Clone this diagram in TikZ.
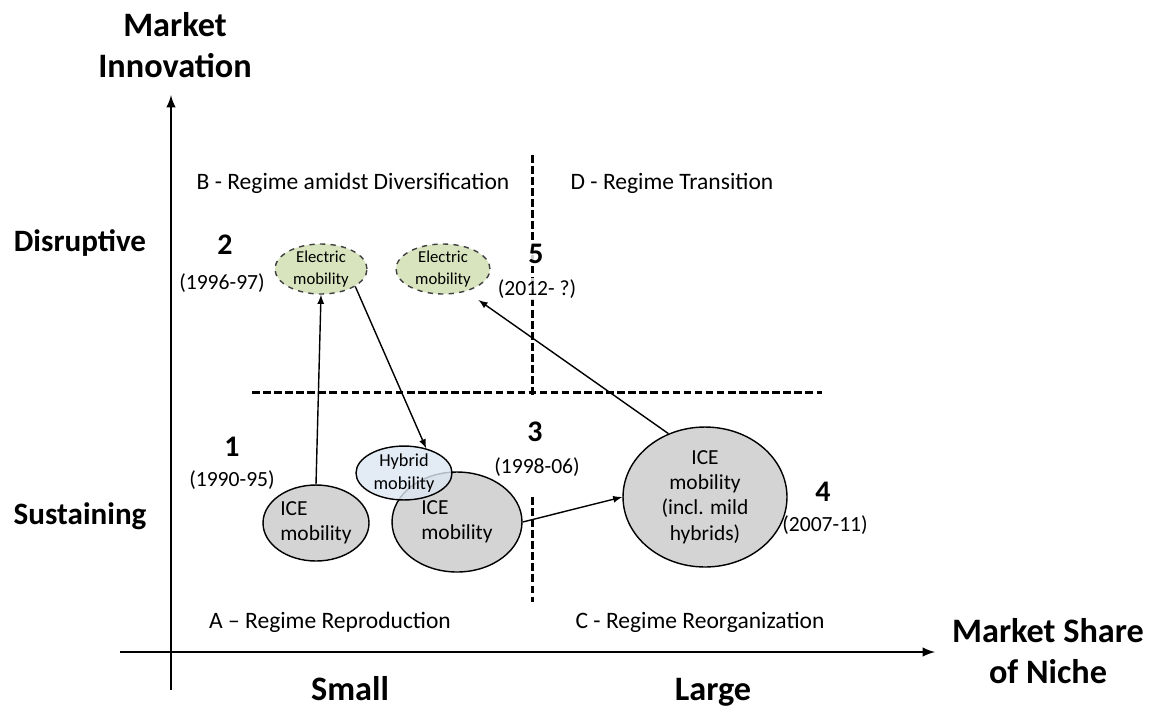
\documentclass[tikz,border=0pt]{standalone}
\usepackage{fontspec}
\setmainfont{Carlito}
\usetikzlibrary{shapes.geometric}
\definecolor{icegray}{RGB}{212,212,212}
\definecolor{elgreen}{RGB}{215,228,189}
\definecolor{hybblue}{RGB}{220,230,242}

\begin{document}
\begin{tikzpicture}
[x=0.02cm,y=-0.02cm,%
  axisdecorate/.style={-latex,line width=1.4pt},%
  dashdecorate/.style={line width=1.7pt,dash pattern=on 4.3pt off 2pt},%
  arrowdecorate/.style={-latex,line width=0.8pt},%
  titledecorate/.style={font=\fontsize{19.5}{23}\selectfont\bfseries,align=center},%
  leveldecorate/.style={font=\fontsize{17.7}{20}\selectfont\bfseries},%
  quaddecorate/.style={font=\fontsize{13.4}{16}\selectfont},%
  numdecorate/.style={font=\fontsize{17}{19}\selectfont\bfseries},%
  yeardecorate/.style={font=\fontsize{12.3}{14}\selectfont,inner sep=1pt},%
  icedecorate/.style={shape=ellipse,draw,thick,fill=icegray,inner sep=0pt,font=\fontsize{12.2}{14.5}\selectfont},%
  electricdecorate/.style={shape=ellipse,draw=black!75,thick,dashed,fill=elgreen,inner sep=0pt,font=\fontsize{9.5}{12}\selectfont,align=center},%
  hybriddecorate/.style={shape=ellipse,draw,thick,fill=hybblue,fill opacity=0.8,text opacity=1,inner sep=0pt,font=\fontsize{10.4}{12.8}\selectfont,align=center}]
\useasboundingbox (0,0) rectangle (1151,707);
%% axes
\coordinate (xstart) at (120,652);
\coordinate (xend) at (935,652);
\coordinate (ystart) at (171,690);
\coordinate (yend) at (171,95);
\draw[axisdecorate] (xstart) -- (xend);
\draw[axisdecorate] (ystart) -- (yend);
%% quadrant borders
\coordinate (hleft) at (252,392);
\coordinate (hright) at (822,392);
\coordinate (vtop) at (532,155);
\coordinate (vmid) at (532,398);
\coordinate (vlow) at (532,497);
\coordinate (vbot) at (532,602);
\draw[dashdecorate] (hleft) -- (hright);
\draw[dashdecorate] (vtop) -- (vmid);
\draw[dashdecorate] (vlow) -- (vbot);
%% axis texts
\node (mi) at (175,45) [titledecorate] {Market\\Innovation};
\node (ms) at (1048,651) [titledecorate] {Market Share\\of Niche};
\node (sml) at (350,700) [titledecorate,anchor=base] {Small};
\node (lrg) at (713,700) [titledecorate,anchor=base] {Large};
\node (dis) at (80,243) [leveldecorate] {Disruptive};
\node (sus) at (80,516) [leveldecorate] {Sustaining};
%% quadrant texts
\foreach \nodename/\x/\y/\txt in {
qb/353/183/B - Regime amidst Diversification, qd/672/183/D - Regime Transition,
qa/330/622/A – Regime Reproduction, qc/700/622/C - Regime Reorganization}
{
  \node (\nodename) at (\x,\y) [quaddecorate] {\txt};
}
%% stages and years
\foreach \nodename/\x/\y/\txt in {
n1/232/447/1, n2/225/245/2, n3/535/432/3, n4/823/492/4, n5/536/254/5}
{
  \node (\nodename) at (\x,\y) [numdecorate,fill=white,fill opacity=0.8,text opacity=1,inner sep=1pt] {\txt};
}
\foreach \nodename/\x/\y/\txt in {
y1/232/480/(1990-95), y2/222/283/(1996-97), y3/537/467/(1998-06), y4/825/525/(2007-11), y5/537/289/(2012-\ ?)}
{
  \node (\nodename) at (\x,\y) [yeardecorate,fill=white,fill opacity=0.8,text opacity=1] {\txt};
}
%% technologies
\node (ice1) at (316,523) [icedecorate,minimum width=2.12cm,minimum height=1.52cm,align=left] {ICE\\mobility};
\node (ice2) at (457,522) [icedecorate,minimum width=2.6cm,minimum height=2.0cm,align=left] {ICE\\mobility};
\node (ice3) at (705,497) [icedecorate,minimum width=3.28cm,minimum height=2.8cm,align=center] {ICE\\mobility\\(incl. mild\\hybrids)};
\node (hyb) at (404,473) [hybriddecorate,minimum width=1.92cm,minimum height=1.0cm] {Hybrid\\mobility};
\node (el1) at (321,269) [electricdecorate,minimum width=1.84cm,minimum height=0.88cm] {Electric\\mobility};
\node (el2) at (443,269) [electricdecorate,minimum width=1.88cm,minimum height=0.88cm] {Electric\\mobility};
%% paths
\draw[arrowdecorate] (ice1.north) -- (el1.south);
\draw[arrowdecorate] (el1.-27) -- (hyb.48);
\draw[arrowdecorate] (ice2.east) -- (ice3.west);
\draw[arrowdecorate,shorten >=8.5pt] (ice3.120) -- (el2.-44);
\end{tikzpicture}
\end{document}
